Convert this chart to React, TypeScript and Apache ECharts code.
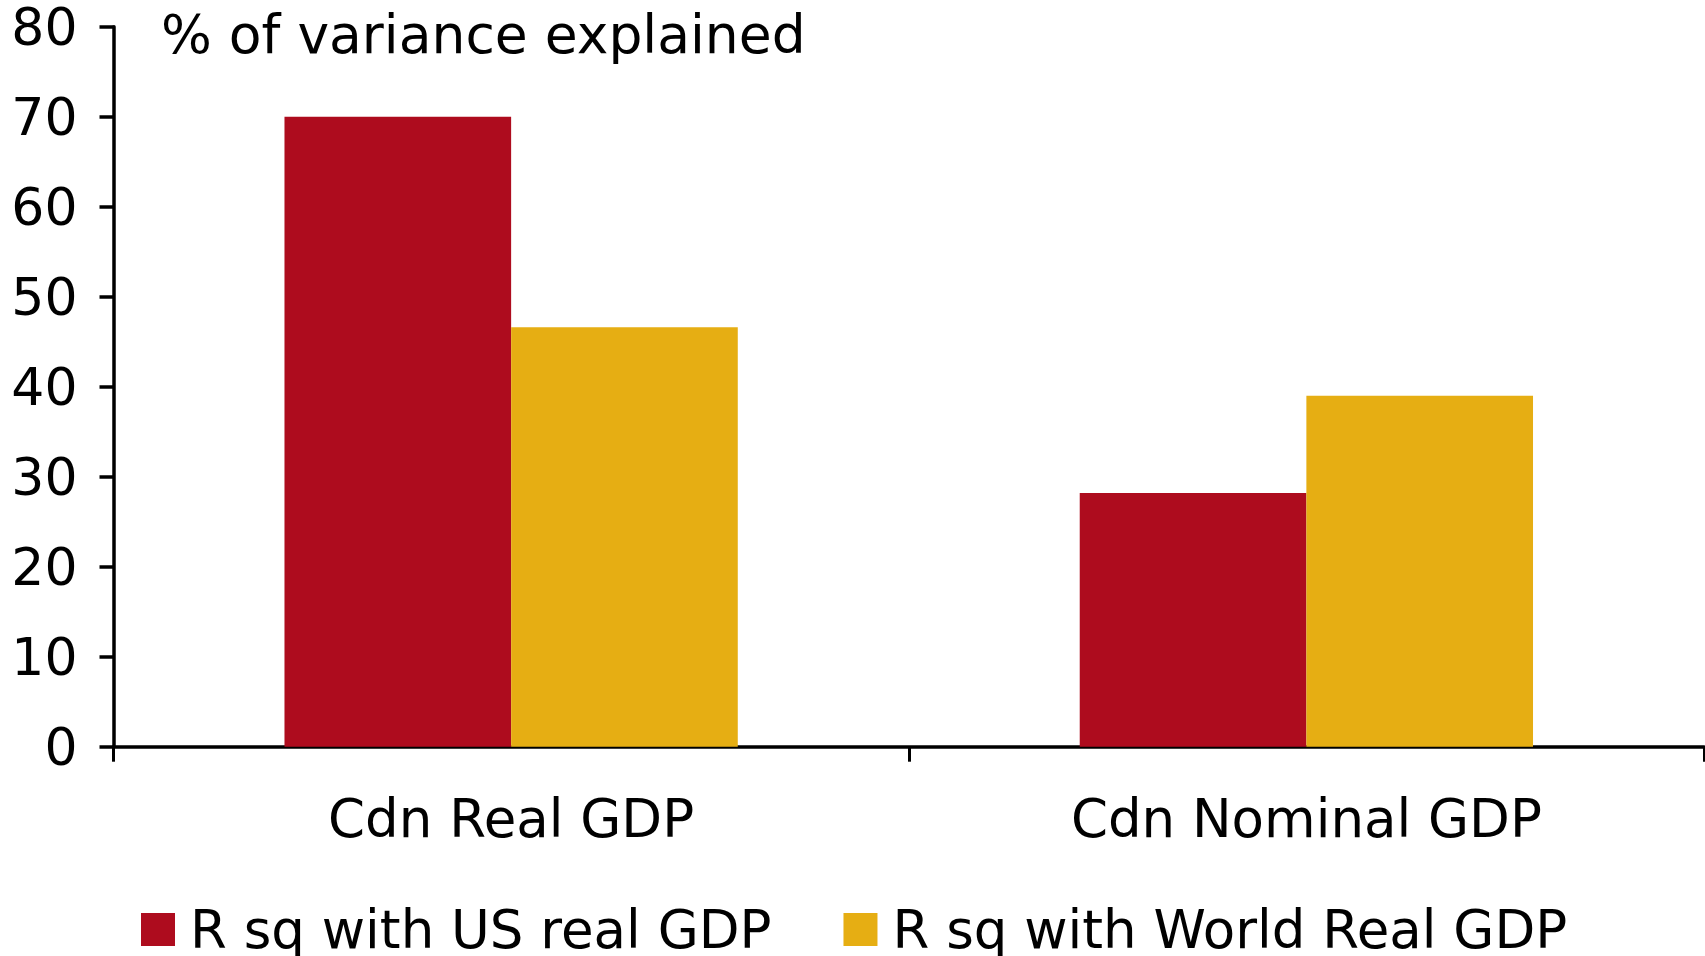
import React, { useEffect, useRef } from "react";
import * as echarts from "echarts";

const categories = ["Cdn Real GDP", "Cdn Nominal GDP"];
const usRealGdp = [70, 28.2];
const worldRealGdp = [46.6, 39.0];
const seriesNames = ["R sq with US real GDP", "R sq with World Real GDP"];
const titleText = "% of variance explained";

const FONT = "DejaVu Sans";

export default function App() {
  const ref = useRef<HTMLDivElement>(null);
  useEffect(() => {
    if (!ref.current) return;
    const chart = echarts.init(ref.current, undefined, { renderer: "svg" });
    chart.setOption({
      animation: false,
      backgroundColor: "#ffffff",
      textStyle: { fontFamily: FONT },
      title: {
        text: titleText,
        left: 161,
        top: 12,
        padding: 0,
        textStyle: { fontFamily: FONT, fontSize: 53.5, fontWeight: "normal", color: "#000", lineHeight: 44 },
      },
      grid: { left: 113.5, right: 1, top: 26.7, bottom: 209.3, containLabel: false },
      legend: {
        left: 141,
        top: 903,
        padding: 0,
        itemWidth: 34,
        itemHeight: 33,
        itemGap: 72,
        icon: "rect",
        textStyle: { fontFamily: FONT, fontSize: 53, color: "#000", padding: [0, 0, 0, 10], lineHeight: 36 },
        data: seriesNames,
      },
      xAxis: {
        type: "category",
        data: categories,
        axisLine: { lineStyle: { color: "#000", width: 3.5 } },
        axisTick: { show: true, length: 15, lineStyle: { color: "#000", width: 3 } },
        axisLabel: { fontFamily: FONT, fontSize: 53, color: "#000", margin: 45 },
      },
      yAxis: {
        type: "value",
        min: 0,
        max: 80,
        interval: 10,
        splitLine: { show: false },
        axisLine: { show: true, lineStyle: { color: "#000", width: 3.5 } },
        axisTick: { show: true, length: 14, lineStyle: { color: "#000", width: 3.5 } },
        axisLabel: { fontFamily: FONT, fontSize: 52, color: "#000", margin: 36, lineHeight: 40 },
      },
      series: [
        {
          name: seriesNames[0],
          type: "bar",
          data: usRealGdp,
          barGap: "0%",
          barCategoryGap: "43%",
          itemStyle: { color: "#AE0C1E" },
          z: 1,
        },
        {
          name: seriesNames[1],
          type: "bar",
          data: worldRealGdp,
          barGap: "0%",
          barCategoryGap: "43%",
          itemStyle: { color: "#E6AE13" },
          z: 1,
        },
      ],
    });
    return () => chart.dispose();
  }, []);
  return (
    <div
      ref={ref}
      style={{ position: "absolute", left: 0, top: 0, width: 1705, height: 956 }}
    />
  );
}
